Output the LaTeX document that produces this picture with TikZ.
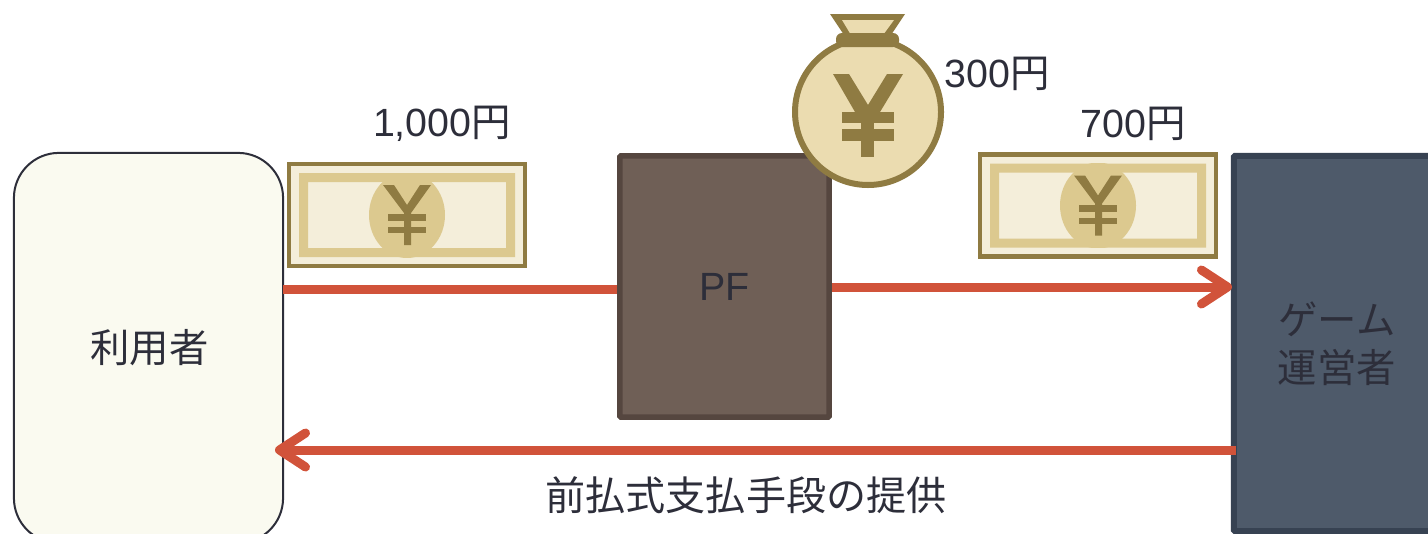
\documentclass[tikz,border=0pt]{standalone}
\usepackage{fontspec}
\setmainfont{Liberation Sans}
\newfontfamily\cjk{Noto Sans CJK JP}
\usetikzlibrary{arrows.meta}
\definecolor{inkdark}{HTML}{2D2E3A}
\definecolor{flowred}{HTML}{D1533A}
\definecolor{moneyline}{HTML}{8F7B42}
\definecolor{moneyband}{HTML}{DCC98F}
\definecolor{moneypale}{HTML}{F4EEDA}
\definecolor{moneybag}{HTML}{EBDCB0}
\definecolor{userfill}{HTML}{FAFAF0}
\definecolor{pffill}{HTML}{6F5F56}
\definecolor{pfline}{HTML}{55463F}
\definecolor{gamefill}{HTML}{4E5A6A}
\definecolor{gameline}{HTML}{374252}
\tikzset{
	partybox/.style={draw, outer sep=0pt, text=inkdark, align=center, font=\fontsize{11.2}{13.6}\selectfont\cjk},
	moneylabel/.style={text=inkdark, font=\fontsize{11.2}{13}\selectfont},
	flowline/.style={draw=flowred, line width=0.09cm},
	flowtip/.style={flowline, -{Straight Barb[length=0.26cm, width=0.34cm, round]}},
	yenmark/.pic={
		\fill[moneyline] (-24,-30) -- (-13,-30) -- (0,-10) -- (13,-30) -- (24,-30) -- (4,-2) -- (4,30) -- (-3,30) -- (-3,-2) -- cycle;
		\fill[moneyline] (-19,-1) rectangle (19,6);
		\fill[moneyline] (-19,12) rectangle (19,18);
	},
	yenbill/.pic={
		\draw[moneyline, fill=moneypale, line width=0.045cm] (-118,-51) rectangle (118,51);
		\fill[moneyband, even odd rule] (-108,-42) rectangle (108,42) (-99,-33) rectangle (99,33);
		\begin{scope}
			\clip (-108,-42) rectangle (108,42);
			\fill[moneyband] (0,0) ellipse (38 and 43);
		\end{scope}
		\pic at (0,0) {yenmark};
	}
}
\begin{document}
\begin{tikzpicture}[x=0.01cm, y=-0.01cm, line join=miter]
	\useasboundingbox (0,0) rectangle (1428,533);
	
	% 三者の枠
	\node[partybox, fill=userfill, draw=inkdark, line width=0.02cm, rounded corners=0.45cm, minimum width=2.69cm, minimum height=3.9cm] (user) at (148.5,348) {\hspace{0.02cm}利用者};
	\node[partybox, fill=pffill, draw=pfline, line width=0.055cm, rounded corners=0.01cm, minimum width=2.09cm, minimum height=2.61cm] (pf) at (724.5,286.5) {\rmfamily PF};
	\node[partybox, fill=gamefill, draw=gameline, line width=0.06cm, rounded corners=0.01cm, minimum width=2.06cm, minimum height=3.75cm] (game) at (1337,343.5) {ゲーム\\運営者};
	
	% 流れの線
	\coordinate (payin) at (user.east |- 0,289);
	\coordinate (payout) at ([xshift=-0.02cm]game.west |- 0,287);
	\coordinate (svcstart) at (1236,450);
	\coordinate (svcend) at (275,450);
	\draw[flowline] (payin) -- ([xshift=-0.03cm]pf.west |- payin);
	\draw[flowtip] ([xshift=0.03cm]pf.east |- payout) -- (payout);
	\draw[flowtip] (svcstart) -- (svcend);
	
	% 紙幣
	\pic at (407,215) {yenbill};
	\pic at (1098,205.5) {yenbill};
	
	% 袋
	\draw[moneyline, fill=moneybag, line width=0.06cm] (868,112) circle (73);
	\fill[moneyline] (830,14) -- (905,14) -- (889,38) -- (846,38) -- cycle;
	\fill[moneybag] (842,20) -- (894,20) -- (883,35) -- (851,35) -- cycle;
	\fill[moneyline, rounded corners=0.06cm] (836,33) rectangle (899,47);
	\fill[moneyline] (833,74) -- (849,74) -- (868,105) -- (887,74) -- (903,74) -- (880,112) -- (855,112) -- cycle;
	\fill[moneyline] (842,112) rectangle (894,123);
	\fill[moneyline] (842,129) rectangle (894,141);
	\fill[moneyline] (861,112) rectangle (874,157);
	
	% 金額と説明
	\node[moneylabel] (amountin) at (442,124) {1,000{\cjk 円}};
	\node[moneylabel] (amountfee) at (997.5,74) {300{\cjk 円}};
	\node[moneylabel] (amountout) at (1133,124) {700{\cjk 円}};
	\node[moneylabel, font=\fontsize{11.4}{13}\selectfont\cjk] (service) at (746,495) {前払式支払手段の提供};
	
\end{tikzpicture}
\end{document}
